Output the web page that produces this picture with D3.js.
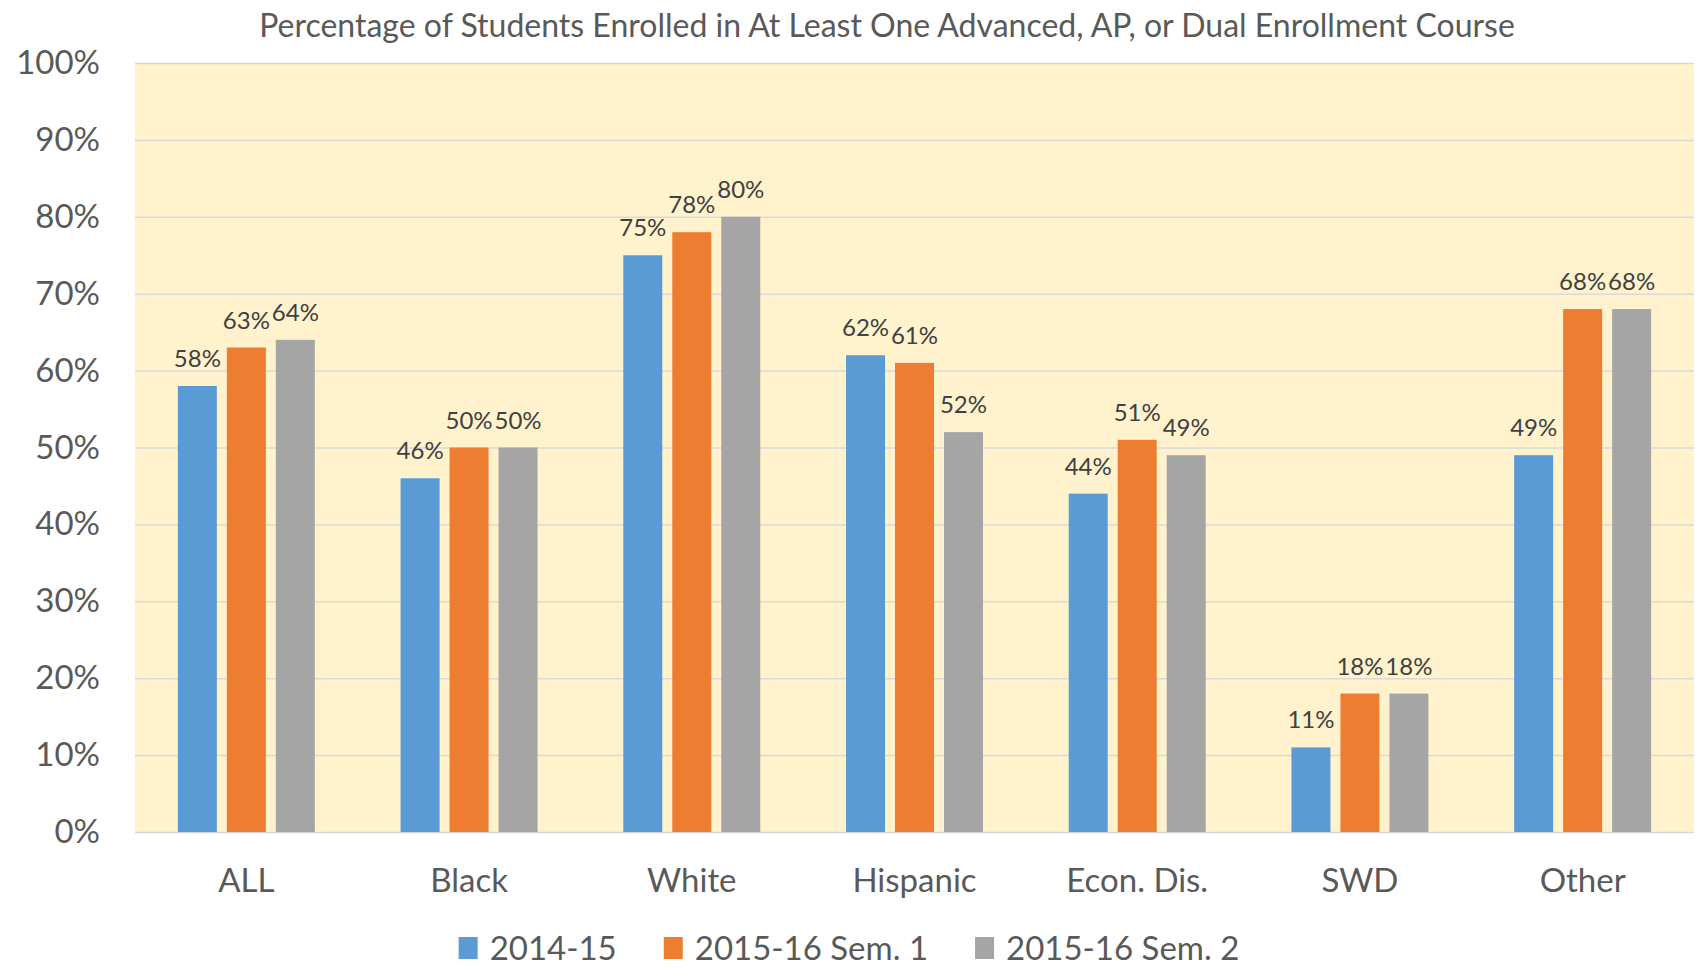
<!DOCTYPE html>
<html>
<head>
<meta charset="utf-8">
<script src="https://cdn.jsdelivr.net/npm/d3@7"></script>
<style>
	body { margin: 0; background: #ffffff; }
	text { font-family: Lato, "Open Sans", sans-serif; }
</style>
</head>
<body>
<script>
// chart data
var categories = ["ALL", "Black", "White", "Hispanic", "Econ. Dis.", "SWD", "Other"];
var series = ["2014-15", "2015-16 Sem. 1", "2015-16 Sem. 2"];
var values_1415 = [58, 46, 75, 62, 44, 11, 49];
var values_1516s1 = [63, 50, 78, 61, 51, 18, 68];
var values_1516s2 = [64, 50, 80, 52, 49, 18, 68];
var y_ticks = [0, 10, 20, 30, 40, 50, 60, 70, 80, 90, 100];
var title = "Percentage of Students Enrolled in At Least One Advanced, AP, or Dual Enrollment Course";

var colors = ["#5B9BD5", "#ED7D31", "#A5A5A5"];

// canvas size and plot area
var width = 1703;
var height = 973;
var plot = { left: 135, right: 1694, top: 63, bottom: 832 };

// build rows for the grouped bars
var all_values = [values_1415, values_1516s1, values_1516s2];
var rows = categories.map(function(c, i){
	return {
		category : c,
		bars     : series.map(function(s, j){ return { key: s, value: all_values[j][i], idx: j }; })
	};
});

var svg = d3.select("body")
	.append("svg")
	.attr("width", width)
	.attr("height", height);

// scales
var x0 = d3.scaleBand()
	.domain(categories)
	.range([plot.left, plot.right])
	.padding(0);

var group_w = x0.bandwidth() * 0.615;
var x1 = d3.scaleBand()
	.domain(series)
	.range([0, group_w])
	.paddingInner(0.204)
	.paddingOuter(0);

var y = d3.scaleLinear()
	.domain([0, 100])
	.range([plot.bottom, plot.top]);

// plot background
svg.append("rect")
	.attr("x", plot.left)
	.attr("y", plot.top)
	.attr("width", plot.right - plot.left)
	.attr("height", plot.bottom - plot.top)
	.attr("fill", "#FFF2CC");

// gridlines
var y_axis = d3.axisLeft(y)
	.tickValues(y_ticks)
	.tickSize(-(plot.right - plot.left))
	.tickPadding(35)
	.tickFormat(function(d){ return d + "%"; });

var gy = svg.append("g")
	.attr("transform", "translate(" + plot.left + ",0)")
	.call(y_axis);
gy.select(".domain").remove();
gy.selectAll(".tick line")
	.attr("stroke", "#D9D9D9")
	.attr("stroke-width", 1.5);
gy.selectAll(".tick text")
	.attr("fill", "#595959")
	.style("font-size", "33px");

// bars
var group = svg.selectAll(".group")
	.data(rows)
	.enter()
	.append("g")
	.attr("class", "group")
	.attr("transform", function(d){
		return "translate(" + (x0(d.category) + (x0.bandwidth() - group_w) / 2) + ",0)";
	});

group.selectAll("rect")
	.data(function(d){ return d.bars; })
	.enter()
	.append("rect")
	.attr("x", function(d){ return x1(d.key); })
	.attr("y", function(d){ return y(d.value); })
	.attr("width", x1.bandwidth())
	.attr("height", function(d){ return y(0) - y(d.value); })
	.attr("fill", function(d){ return colors[d.idx]; });

// data labels
group.selectAll(".label")
	.data(function(d){ return d.bars; })
	.enter()
	.append("text")
	.attr("class", "label")
	.attr("x", function(d){ return x1(d.key) + x1.bandwidth() / 2; })
	.attr("y", function(d){ return y(d.value) - 19; })
	.attr("text-anchor", "middle")
	.attr("fill", "#404040")
	.style("font-size", "24px")
	.text(function(d){ return d.value + "%"; });

// x axis labels
var x_axis = d3.axisBottom(x0).tickSize(0).tickPadding(0);
var gx = svg.append("g")
	.attr("transform", "translate(0," + plot.bottom + ")")
	.call(x_axis);
gx.select(".domain").remove();
gx.selectAll(".tick text")
	.attr("dy", null)
	.attr("y", 60)
	.attr("fill", "#595959")
	.style("font-size", "33px");

// title
svg.append("text")
	.attr("x", 887)
	.attr("y", 37)
	.attr("text-anchor", "middle")
	.attr("fill", "#595959")
	.style("font-size", "32px")
	.text(title);

// legend (laid out from measured text widths)
var legend = svg.append("g").attr("class", "legend");
var lx = 0;
series.forEach(function(s, i){
	var item = legend.append("g").attr("transform", "translate(" + lx + ",0)");
	item.append("rect")
		.attr("x", 0)
		.attr("y", 937)
		.attr("width", 19)
		.attr("height", 22)
		.attr("fill", colors[i]);
	var t = item.append("text")
		.attr("x", 31)
		.attr("y", 960)
		.attr("fill", "#595959")
		.style("font-size", "33px")
		.text(s);
	lx += 31 + t.node().getComputedTextLength() + 47;
});
var legend_w = lx - 47;
legend.attr("transform", "translate(" + (849 - legend_w / 2) + ",0)");
</script>
</body>
</html>
